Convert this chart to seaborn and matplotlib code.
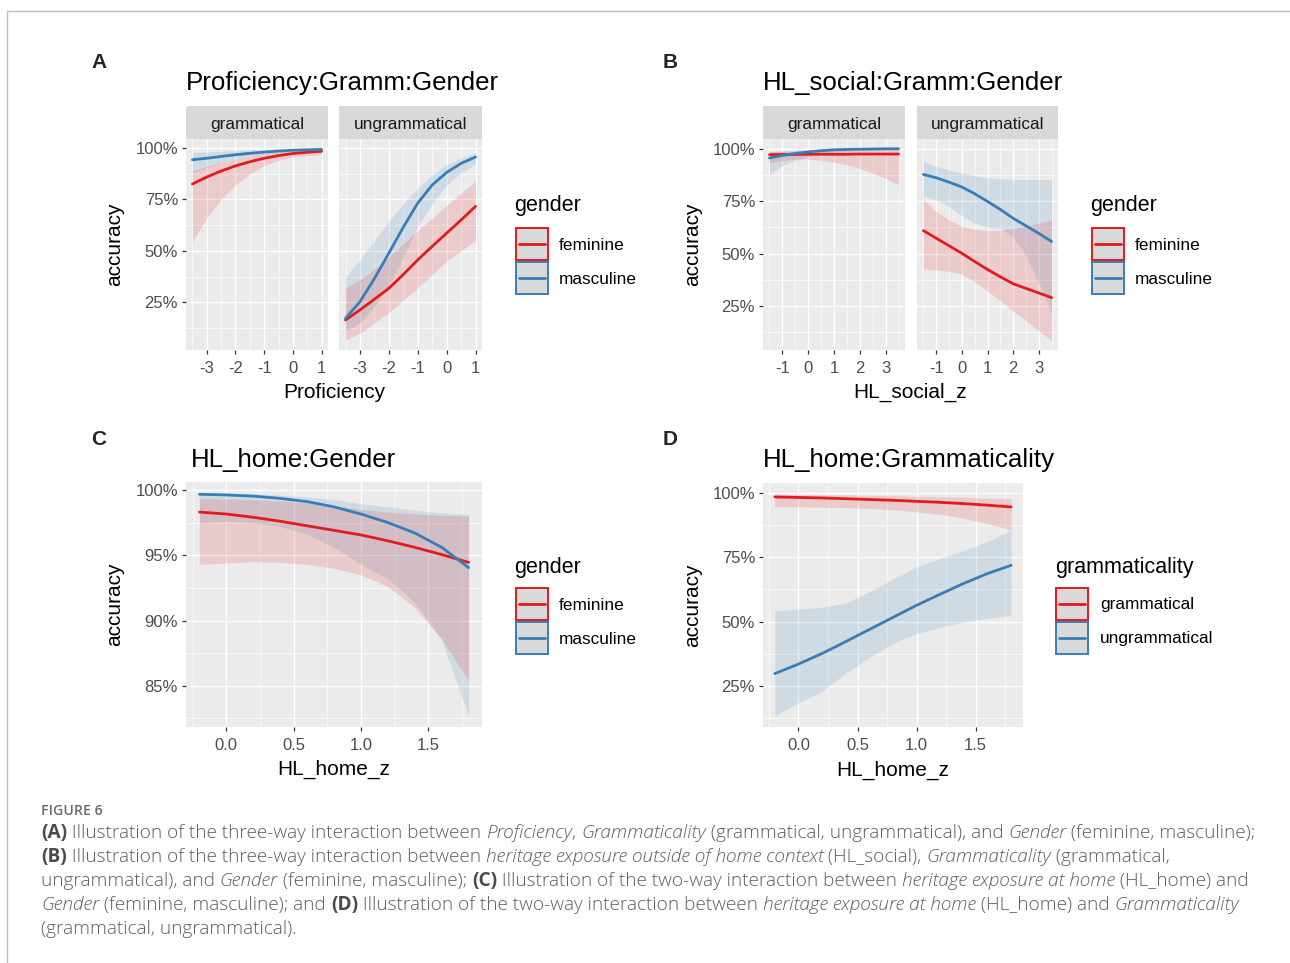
import numpy as np
import pandas as pd
import matplotlib
matplotlib.use("Agg")
import matplotlib.pyplot as plt
import seaborn as sns
from matplotlib.ticker import MultipleLocator, FuncFormatter
from matplotlib.patches import Rectangle
from matplotlib.lines import Line2D

# ------------------------------------------------------------------ data
# Panel A : Proficiency x Grammaticality x Gender (accuracy in %)
A_x = [-3.5, -3, -2.5, -2, -1.5, -1, -0.5, 0, 0.5, 1]
A_gram_masc = [94.3, 95.0, 95.9, 96.7, 97.4, 98.0, 98.5, 98.9, 99.1, 99.3]
A_gram_masc_lo = [88.0, 90.5, 92.8, 94.6, 96.0, 97.0, 97.7, 98.2, 98.5, 98.7]
A_gram_masc_hi = [97.8, 98.1, 98.4, 98.7, 99.0, 99.2, 99.4, 99.5, 99.6, 99.7]
A_gram_fem = [82.5, 85.9, 88.8, 91.3, 93.3, 95.0, 96.3, 97.3, 97.9, 98.4]
A_gram_fem_lo = [54.5, 66.0, 75.0, 82.0, 87.5, 91.5, 94.0, 95.6, 96.3, 96.8]
A_gram_fem_hi = [89.0, 91.0, 93.0, 94.5, 96.0, 97.2, 98.0, 98.7, 99.0, 99.2]
A_ungr_masc = [17.2, 25.3, 36.5, 48.9, 61.5, 73.2, 82.0, 88.1, 92.5, 95.6]
A_ungr_masc_lo = [11.0, 15.0, 23.0, 33.0, 47.0, 62.0, 73.0, 82.0, 88.0, 92.0]
A_ungr_masc_hi = [37.5, 45.6, 55.0, 64.3, 73.0, 80.5, 87.0, 91.9, 95.0, 97.6]
A_ungr_fem = [16.4, 21.3, 26.5, 31.8, 38.5, 45.6, 52.2, 58.6, 65.0, 71.6]
A_ungr_fem_lo = [6.5, 10.0, 15.0, 20.0, 26.0, 32.0, 38.5, 45.0, 50.0, 55.0]
A_ungr_fem_hi = [32.0, 36.0, 41.0, 47.0, 53.5, 60.0, 66.0, 72.0, 78.0, 84.0]

# Panel B : HL_social x Grammaticality x Gender
B_x = [-1.5, -1, -0.5, 0, 0.5, 1, 1.5, 2, 2.5, 3, 3.5]
B_gram_masc = [95.5, 96.7, 97.7, 98.4, 99.0, 99.4, 99.6, 99.7, 99.8, 99.9, 99.9]
B_gram_masc_lo = [87.6, 91.9, 94.5, 96.3, 97.4, 98.2, 98.7, 99.0, 99.2, 99.3, 99.4]
B_gram_masc_hi = [98.5, 99.0, 99.3, 99.5, 99.7, 99.8, 99.9, 99.9, 100.0, 100.0, 100.0]
B_gram_fem = [97.1, 97.2, 97.2, 97.3, 97.3, 97.3, 97.3, 97.4, 97.4, 97.4, 97.4]
B_gram_fem_lo = [93.1, 94.3, 95.0, 95.0, 94.4, 93.5, 92.3, 90.5, 88.4, 85.8, 82.8]
B_gram_fem_hi = [98.6, 98.7, 98.8, 99.0, 99.1, 99.3, 99.4, 99.5, 99.6, 99.7, 99.7]
B_ungr_masc = [87.7, 86.1, 84.0, 81.7, 78.5, 74.8, 71.0, 66.8, 63.2, 59.6, 55.7]
B_ungr_masc_lo = [77.2, 75.5, 72.4, 68.0, 64.5, 62.5, 62.0, 58.0, 49.0, 36.0, 21.4]
B_ungr_masc_hi = [93.9, 91.5, 89.8, 88.4, 87.0, 86.1, 85.6, 85.3, 85.3, 85.3, 85.3]
B_ungr_fem = [60.9, 57.3, 53.7, 50.1, 46.2, 42.4, 38.9, 35.6, 33.4, 31.2, 29.0]
B_ungr_fem_lo = [42.6, 42.1, 41.5, 40.2, 36.5, 32.2, 27.5, 22.6, 18.0, 13.1, 8.6]
B_ungr_fem_hi = [76.0, 70.0, 66.0, 63.0, 61.5, 61.0, 61.0, 62.0, 63.0, 64.5, 66.0]

# Panel C : HL_home x Gender
C_x = [-0.2, 0, 0.2, 0.4, 0.6, 0.8, 1.0, 1.2, 1.4, 1.6, 1.8]
C_masc = [99.66, 99.61, 99.52, 99.35, 99.1, 98.7, 98.15, 97.5, 96.7, 95.6, 94.05]
C_masc_lo = [97.5, 97.6, 97.5, 97.2, 96.6, 95.6, 94.3, 93.2, 91.4, 88.5, 82.7]
C_masc_hi = [99.75, 99.75, 99.7, 99.6, 99.45, 99.25, 98.95, 98.7, 98.45, 98.25, 98.1]
C_fem = [98.3, 98.15, 97.9, 97.6, 97.25, 96.9, 96.55, 96.1, 95.6, 95.05, 94.45]
C_fem_lo = [94.3, 94.4, 94.5, 94.45, 94.3, 94.0, 93.5, 92.6, 91.0, 88.6, 85.4]
C_fem_hi = [99.3, 99.3, 99.25, 99.15, 99.0, 98.8, 98.5, 98.3, 98.15, 98.05, 98.0]

# Panel D : HL_home x Grammaticality
D_x = [-0.2, 0, 0.2, 0.4, 0.6, 0.8, 1.0, 1.2, 1.4, 1.6, 1.8]
D_gram = [98.3, 98.1, 97.9, 97.6, 97.3, 97.0, 96.6, 96.2, 95.7, 95.1, 94.4]
D_gram_lo = [94.4, 94.4, 94.3, 94.2, 93.8, 93.3, 92.5, 91.5, 90.0, 88.0, 85.4]
D_gram_hi = [99.4, 99.3, 99.2, 99.1, 99.0, 98.8, 98.6, 98.4, 98.2, 97.9, 97.7]
D_ungr = [29.8, 33.5, 37.6, 42.2, 46.9, 51.6, 56.3, 60.6, 64.8, 68.6, 71.8]
D_ungr_lo = [13.4, 18.5, 23.0, 30.0, 36.0, 41.5, 45.3, 47.8, 49.8, 51.2, 52.4]
D_ungr_hi = [54.1, 54.8, 55.5, 57.2, 61.5, 66.5, 71.2, 74.5, 77.5, 81.0, 85.4]

gender_levels = ["feminine", "masculine"]
gram_levels = ["grammatical", "ungrammatical"]
facet_labels = ["grammatical", "ungrammatical"]
panel_titles = ["Proficiency:Gramm:Gender", "HL_social:Gramm:Gender",
                "HL_home:Gender", "HL_home:Grammaticality"]
x_titles = ["Proficiency", "HL_social_z", "HL_home_z", "HL_home_z"]
y_title = "accuracy"

# ------------------------------------------------------------------ style
sns.set_theme(style="darkgrid")
plt.rcParams['font.family'] = ['Liberation Sans', 'DejaVu Sans']
plt.rcParams['axes.unicode_minus'] = False

RED = '#E41A1C'
BLUE = '#377EB8'
BG = '#EBEBEB'
W, H = 1290, 963
fig = plt.figure(figsize=(W / 100, H / 100), dpi=100)
fig.patch.set_facecolor('white')


def fx(px):
    return px / W


def fy(py):
    return 1 - py / H


def add_ax(l, t, r, b):
    return fig.add_axes([l / W, 1 - b / H, (r - l) / W, (b - t) / H])


def expand(vals):
    lo, hi = min(vals), max(vals)
    d = (hi - lo) * 0.05
    return lo - d, hi + d


def style_ax(ax, xlim, ylim, xmaj, xmin, ymaj, ymin, xfmt, show_y=True):
    ax.set_facecolor(BG)
    ax.set_xlim(xlim)
    ax.set_ylim(ylim)
    ax.xaxis.set_major_locator(MultipleLocator(xmaj))
    ax.xaxis.set_minor_locator(MultipleLocator(xmin))
    ax.yaxis.set_major_locator(MultipleLocator(ymaj))
    ax.yaxis.set_minor_locator(MultipleLocator(ymin))
    ax.xaxis.set_major_formatter(FuncFormatter(xfmt))
    ax.yaxis.set_major_formatter(FuncFormatter(lambda v, p: f"{v:.0f}%"))
    ax.grid(which='major', color='white', linewidth=1.0)
    ax.grid(which='minor', color='white', linewidth=0.5)
    for s in ax.spines.values():
        s.set_visible(False)
    ax.tick_params(which='major', length=3.2, width=0.9, color='#333333',
                   labelcolor='#4D4D4D', labelsize=12,
                   bottom=True, left=show_y, labelleft=show_y)
    ax.tick_params(axis='x', which='major', pad=4.6)
    ax.tick_params(axis='y', which='major', pad=2.5)
    ax.tick_params(which='minor', length=0, bottom=False, left=False)
    ax.set_xlabel('')
    ax.set_ylabel('')


def draw(ax, x, series, hue_name, order, pal):
    rows = []
    for name, y, lo, hi in series:
        ax.fill_between(x, lo, hi, color=pal[name], alpha=0.15, linewidth=0)
        for xi, yi in zip(x, y):
            rows.append({'x': xi, 'acc': yi, hue_name: name})
    df = pd.DataFrame(rows)
    sns.lineplot(data=df, x='x', y='acc', hue=hue_name, hue_order=order,
                 palette=pal, ax=ax, legend=False, linewidth=2.0, errorbar=None)
    ax.set_xlabel('')
    ax.set_ylabel('')


def strip(l, r, label):
    sa = add_ax(l, 106, r, 139)
    sa.set_facecolor('#D9D9D9')
    sa.set_xticks([])
    sa.set_yticks([])
    sa.grid(False)
    for s in sa.spines.values():
        s.set_visible(False)
    sa.text(0.5, 0.44, label, transform=sa.transAxes, ha='center', va='center',
            fontsize=12.4, color='#1A1A1A')


def legend(title, tx, ty, bx, by, lx, labels, colors):
    fig.text(fx(tx), fy(ty), title, fontsize=15.5, ha='left', va='center', color='black')
    for i, (lab, col) in enumerate(zip(labels, colors)):
        top = by + i * 34
        fig.add_artist(Rectangle((fx(bx), fy(top + 32)), 32 / W, 32 / H,
                                 transform=fig.transFigure, facecolor='#D9D9D9',
                                 edgecolor=col, linewidth=1.4))
        fig.add_artist(Line2D([fx(bx + 3), fx(bx + 29)], [fy(top + 16)] * 2,
                              transform=fig.transFigure, color=col, linewidth=2.0))
        fig.text(fx(lx), fy(top + 17), lab, fontsize=12.4, ha='left', va='center', color='black')


int_fmt = lambda v, p: f"{v:.0f}"
dec_fmt = lambda v, p: f"{v:.1f}"
gpal = {"feminine": RED, "masculine": BLUE}
grpal = {"grammatical": RED, "ungrammatical": BLUE}

# ------------------------------------------------------------------ panel A
A_ylim = expand(A_gram_fem_lo + A_gram_masc_hi + A_ungr_fem_lo + A_ungr_masc_hi)
A_xlim = expand(A_x)
for k, (l, r) in enumerate([(186, 328), (339, 482)]):
    ax = add_ax(l, 139, r, 350)
    if k == 0:
        ser = [("masculine", A_gram_masc, A_gram_masc_lo, A_gram_masc_hi),
               ("feminine", A_gram_fem, A_gram_fem_lo, A_gram_fem_hi)]
    else:
        ser = [("masculine", A_ungr_masc, A_ungr_masc_lo, A_ungr_masc_hi),
               ("feminine", A_ungr_fem, A_ungr_fem_lo, A_ungr_fem_hi)]
    draw(ax, A_x, ser, 'gender', gender_levels, gpal)
    style_ax(ax, A_xlim, A_ylim, 1, 0.5, 25, 12.5, int_fmt, show_y=(k == 0))
    strip(l, r, facet_labels[k])

# ------------------------------------------------------------------ panel B
B_ylim = expand(B_gram_fem_lo + B_gram_masc_hi + B_ungr_fem_lo + B_ungr_masc_hi)
B_xlim = expand(B_x)
for k, (l, r) in enumerate([(763, 905), (917, 1058)]):
    ax = add_ax(l, 139, r, 350)
    if k == 0:
        ser = [("masculine", B_gram_masc, B_gram_masc_lo, B_gram_masc_hi),
               ("feminine", B_gram_fem, B_gram_fem_lo, B_gram_fem_hi)]
    else:
        ser = [("masculine", B_ungr_masc, B_ungr_masc_lo, B_ungr_masc_hi),
               ("feminine", B_ungr_fem, B_ungr_fem_lo, B_ungr_fem_hi)]
    draw(ax, B_x, ser, 'gender', gender_levels, gpal)
    style_ax(ax, B_xlim, B_ylim, 1, 0.5, 25, 12.5, int_fmt, show_y=(k == 0))
    strip(l, r, facet_labels[k])

# ------------------------------------------------------------------ panel C
axC = add_ax(186, 482, 482, 727)
draw(axC, C_x, [("masculine", C_masc, C_masc_lo, C_masc_hi),
                ("feminine", C_fem, C_fem_lo, C_fem_hi)], 'gender', gender_levels, gpal)
style_ax(axC, expand(C_x), expand(C_masc_lo + C_fem_lo + C_masc_hi + C_fem_hi),
         0.5, 0.25, 5, 2.5, dec_fmt)

# ------------------------------------------------------------------ panel D
axD = add_ax(763, 483, 1023, 727)
draw(axD, D_x, [("ungrammatical", D_ungr, D_ungr_lo, D_ungr_hi),
                ("grammatical", D_gram, D_gram_lo, D_gram_hi)], 'gram', gram_levels, grpal)
style_ax(axD, expand(D_x), expand(D_ungr_lo + D_gram_hi), 0.5, 0.25, 25, 12.5, dec_fmt)

# ------------------------------------------------------------------ texts
for lab, x, y in [("A", 91, 68), ("B", 663, 68), ("C", 91, 445), ("D", 663, 445)]:
    fig.text(fx(x), fy(y), lab, fontsize=15, fontweight='bold', ha='left', va='baseline')
for t, x, y in zip(panel_titles, [186, 763, 191, 763], [90, 90, 467, 467]):
    fig.text(fx(x), fy(y), t, fontsize=18.6, ha='left', va='baseline', color='black')
for t, x, y in zip(x_titles, [334, 910, 334, 893], [392, 392, 769, 770]):
    fig.text(fx(x), fy(y), t, fontsize=15, ha='center', va='center', color='black')
for x, y in [(115, 244.5), (693, 244.5), (115, 604.5), (693, 605)]:
    fig.text(fx(x), fy(y), y_title, fontsize=15, rotation=90, ha='center', va='center', color='black')

legend("gender", 514, 206, 516, 228, 559, gender_levels, [RED, BLUE])
legend("gender", 1090, 206, 1092, 228, 1135, gender_levels, [RED, BLUE])
legend("gender", 514, 567, 516, 588, 559, gender_levels, [RED, BLUE])
legend("grammaticality", 1055, 567, 1056, 588, 1100, gram_levels, [RED, BLUE])

# frame
fig.add_artist(Line2D([fx(7), 1], [fy(11), fy(11)], transform=fig.transFigure, color='#BDBDBD', linewidth=1.0))
fig.add_artist(Line2D([fx(7), fx(7)], [fy(11), 0], transform=fig.transFigure, color='#BDBDBD', linewidth=1.0))

# ------------------------------------------------------------------ caption
CAP_FONT = ['Open Sans', 'DejaVu Sans']
CAP_COL = '#5E5E5E'
fig.text(fx(41), fy(815), "FIGURE 6", fontsize=10.2, family=CAP_FONT, fontweight='semibold',
         color='#6A6A6A', ha='left', va='baseline')

cap_lines = [
    [("(A)", 'b'), (" Illustration of the three-way interaction between ", 'n'), ("Proficiency", 'i'),
     (", ", 'n'), ("Grammaticality", 'i'), (" (grammatical, ungrammatical), and ", 'n'), ("Gender", 'i'),
     (" (feminine, masculine);", 'n')],
    [("(B)", 'b'), (" Illustration of the three-way interaction between ", 'n'),
     ("heritage exposure outside of home context", 'i'), (" (HL_social), ", 'n'), ("Grammaticality", 'i'),
     (" (grammatical,", 'n')],
    [("ungrammatical), and ", 'n'), ("Gender", 'i'), (" (feminine, masculine); ", 'n'), ("(C)", 'b'),
     (" Illustration of the two-way interaction between ", 'n'), ("heritage exposure at home", 'i'),
     (" (HL_home) and", 'n')],
    [("Gender", 'i'), (" (feminine, masculine); and ", 'n'), ("(D)", 'b'),
     (" Illustration of the two-way interaction between ", 'n'), ("heritage exposure at home", 'i'),
     (" (HL_home) and ", 'n'), ("Grammaticality", 'i')],
    [("(grammatical, ungrammatical).", 'n')],
]

renderer = fig.canvas.get_renderer()


def props(style, size):
    d = dict(fontsize=size, family=CAP_FONT, color=CAP_COL, fontweight='light')
    if style == 'i':
        d['fontstyle'] = 'italic'
    if style == 'b':
        d['fontweight'] = 'bold'
        d['color'] = '#4A4A4A'
    return d


def measure(s, style, size):
    t1 = fig.text(0, 0, "|" + s + "|", **props(style, size))
    t2 = fig.text(0, 0, "||", **props(style, size))
    w = t1.get_window_extent(renderer).width - t2.get_window_extent(renderer).width
    t1.remove()
    t2.remove()
    return w


base = 12.0
w1 = sum(measure(s, st, base) for s, st in cap_lines[0])
size = base * (1217.0 / w1)

for i, frags in enumerate(cap_lines):
    x = 41.0
    yb = 838 + 24 * i
    for s, st in frags:
        fig.text(fx(x), fy(yb), s, ha='left', va='baseline', **props(st, size))
        x += measure(s, st, size)

fig.savefig("out.png", dpi=100, facecolor='white')
